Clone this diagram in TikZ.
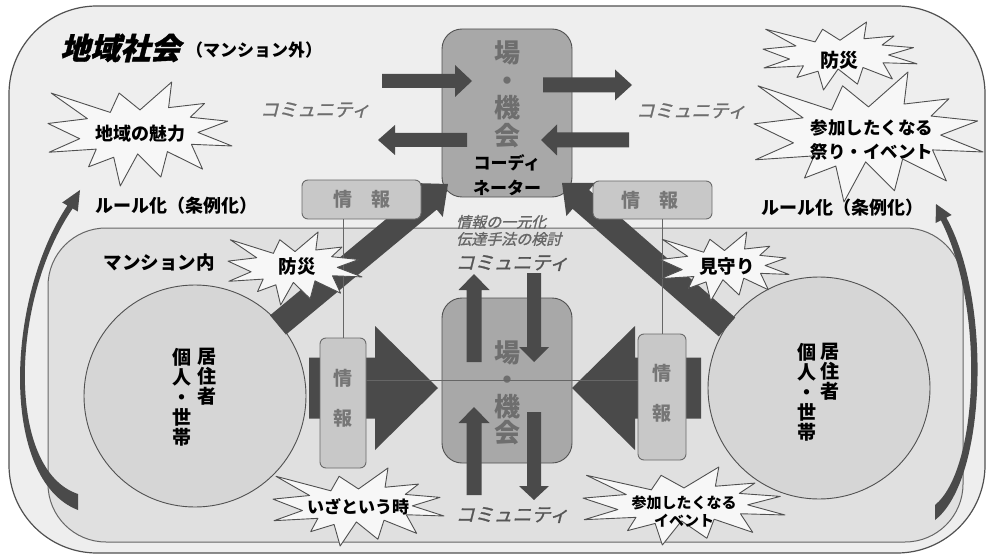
\documentclass[tikz,border=0pt]{standalone}
\usepackage{fontspec}
\setmainfont{Noto Sans CJK JP}
\newfontfamily\jpsl{Noto Sans CJK JP}[FakeSlant=0.25, FakeBold=1.2]
\usetikzlibrary{calc}
\definecolor{bgout}{HTML}{EEEEEE}
\definecolor{bgin}{HTML}{E0E0E0}
\definecolor{circfill}{HTML}{D6D6D6}
\definecolor{boxfill}{HTML}{A8A8A8}
\definecolor{infofill}{HTML}{C8C8C8}
\definecolor{infoedge}{HTML}{6A6A6A}
\definecolor{infotxt}{HTML}{767676}
\definecolor{arrowc}{HTML}{4A4A4A}
\definecolor{edgec}{HTML}{505050}
\definecolor{edgec2}{HTML}{666666}
\definecolor{placetxt}{HTML}{6E6E6E}
\definecolor{italtxt}{HTML}{555555}
\definecolor{burstfill}{HTML}{F7F7F7}
\newcommand\fs[2]{\fontsize{#1}{#2}\selectfont}
\tikzset{
  outerbox/.style={draw=edgec, line width=1.2pt, fill=bgout, rounded corners=88pt, inner sep=0pt},
  innerbox/.style={draw=edgec2, line width=1pt, fill=bgin, rounded corners=58pt, inner sep=0pt},
  resident/.style={circle, draw=edgec, line width=0.9pt, fill=circfill, minimum size=222pt, inner sep=0pt},
  placebox/.style={draw=edgec, line width=0.9pt, fill=boxfill, rounded corners=20pt, minimum width=130pt, inner sep=0pt},
  infobox/.style={draw=infoedge, line width=0.9pt, fill=infofill, rounded corners=6pt, inner sep=0pt},
  infotext/.style={text=infotxt, font=\bfseries\fs{19}{40}, align=center, inner sep=0pt},
  placetext/.style={text=placetxt, font=\bfseries\fs{26}{27.6}, align=center, inner sep=0pt},
  labeltext/.style={font=\bfseries\fs{18}{24}, align=center, inner sep=0pt},
  vtext/.style={font=\bfseries\fs{19}{20}, align=center, inner sep=0pt},
  italtext/.style={text=italtxt, font=\jpsl\fs{18.5}{20}, inner sep=0pt},
  burststyle/.style={draw=edgec, fill=burstfill, line width=0.9pt, line join=round},
  thinline/.style={draw=edgec2, line width=0.7pt},
  arrowfill/.style={fill=arrowc}
}
\newcommand\burst[4]{%
  \filldraw[burststyle, shift={(#1,#2)}, xscale=#3, yscale=#4]
  (0.5,0.2685) -- (0.6723,0) -- (0.6553,0.2465) -- (0.8509,0.2063) -- (0.7732,0.3387)
  -- (0.9767,0.3767) -- (0.8151,0.4850) -- (1,0.6153) -- (0.7795,0.5992) -- (0.8400,0.8377)
  -- (0.6491,0.6693) -- (0.6133,0.9137) -- (0.4876,0.6914) -- (0.3928,1) -- (0.3572,0.7235)
  -- (0.2205,0.8156) -- (0.2624,0.6452) -- (0.00625,0.6753) -- (0.1723,0.5451) -- (0,0.3988)
  -- (0.2142,0.3526) -- (0.0171,0.1063) -- (0.3385,0.2926) -- (0.3867,0.1063) -- cycle;}
% block arrow: from, to, shaft width, head width, head length
\newcommand\blockarr[5]{%
  \path let \p1=(#1), \p2=(#2), \n1={atan2(\y2-\y1,\x2-\x1)}, \n2={veclen(\x2-\x1,\y2-\y1)} in
    \pgfextra{\xdef\bAng{\n1}\xdef\bLen{\n2}};
  \fill[arrowfill, shift={(#1)}, rotate=\bAng]
    (0,-#3/2) -- (\bLen-#5,-#3/2) -- (\bLen-#5,-#4/2) -- (\bLen,0) -- (\bLen-#5,#4/2)
    -- (\bLen-#5,#3/2) -- (0,#3/2) -- cycle;}
\begin{document}
\begin{tikzpicture}[x=1pt,y=-1pt]
\useasboundingbox (0,0) rectangle (987,556);
% frames
\node[outerbox, minimum width=976pt, minimum height=547pt] (outer) at (497,279.5) {};
\node[innerbox, minimum width=915pt, minimum height=314pt] (inner) at (505.5,385) {};
% curved arrows
\fill[arrowfill] (78,510) .. controls (0,480) and (5,300) .. (67.4,205.5) -- (62.2,202.5)
  -- (80,190) -- (77.8,211.5) -- (72.6,208.5) .. controls (10,300) and (6,470) .. (78,494) -- cycle;
\fill[arrowfill] (935,520) .. controls (987,480) and (992,300) .. (946.3,217.6) -- (951.6,215)
  -- (936,204) -- (935.6,223) -- (940.9,220.3) .. controls (986,310) and (978,470) .. (935,505) -- cycle;
% residents
\node[resident] (lc) at (195,396) {};
\node[resident] (rc) at (819,388) {};
\node[vtext] (lc-a) at (207,377) {居\\住\\者};
\node[vtext] (lc-b) at (182,397) {個\\人\\・\\世\\帯};
\node[vtext] (rc-a) at (830,372) {居\\住\\者};
\node[vtext] (rc-b) at (807,392) {個\\人\\・\\世\\帯};
% place boxes
\node[placebox, minimum height=168pt] (tbox) at (507,113) {};
\node[placebox, minimum height=165pt] (cbox) at (507,380.5) {};
\node[placetext] (tbox-t) at (507,94.5) {場\\・\\機\\会};
\node[font=\bfseries\fs{17}{25}, align=center, inner sep=0pt] (tbox-c) at (507,175.5) {コーディ\\ネーター};
\node[placetext, font=\bfseries\fs{26}{26.7}] (cbox-t) at (507,393) {場\\・\\機\\会};
% arrows around top box
\coordinate (ta1) at (382,81);  \coordinate (ha1) at (472,81);
\coordinate (ta2) at (467,140); \coordinate (ha2) at (378,140);
\coordinate (ta3) at (543,85);  \coordinate (ha3) at (632,85);
\coordinate (ta4) at (629,140); \coordinate (ha4) at (541,140);
\blockarr{ta1}{ha1}{14}{32}{17}
\blockarr{ta2}{ha2}{14}{30}{17}
\blockarr{ta3}{ha3}{15}{31}{17}
\blockarr{ta4}{ha4}{15}{31}{16}
% diagonal arrows
\coordinate (td1) at (278,325); \coordinate (hd1) at (448,184);
\coordinate (td2) at (727,327); \coordinate (hd2) at (562,183);
\blockarr{td1}{hd1}{25}{44}{25}
\blockarr{td2}{hd2}{25}{44}{25}
% big horizontal arrows
\coordinate (tb1) at (309,388); \coordinate (hb1) at (438,388);
\coordinate (tb2) at (701,388); \coordinate (hb2) at (572,388);
\blockarr{tb1}{hb1}{61}{124}{63}
\blockarr{tb2}{hb2}{61}{124}{63}
% vertical arrows at centre box
\coordinate (tv1) at (474,362); \coordinate (hv1) at (474,274);
\coordinate (tv2) at (534,273); \coordinate (hv2) at (534,362);
\coordinate (tv3) at (474,495); \coordinate (hv3) at (474,407);
\coordinate (tv4) at (534,412); \coordinate (hv4) at (534,500);
\blockarr{tv1}{hv1}{15}{31}{16}
\blockarr{tv2}{hv2}{14}{30}{15}
\blockarr{tv3}{hv3}{15}{31}{16}
\blockarr{tv4}{hv4}{14}{30}{14}
% info boxes and thin lines
\node[infobox, minimum width=119pt, minimum height=39pt] (tli) at (361.5,199.5) {};
\node[infobox, minimum width=119pt, minimum height=38pt] (tri) at (652.5,200) {};
\node[infobox, minimum width=46pt, minimum height=130pt] (lvi) at (343,403) {};
\node[infobox, minimum width=48pt, minimum height=126pt] (rvi) at (662,397) {};
\draw[thinline] (lvi.north) -- (lvi.north |- tli.south);
\draw[thinline] (rvi.north) -- (rvi.north |- tri.south);
\draw[thinline] (lvi.east |- cbox.center) -- (rvi.west |- cbox.center);
\node[infotext] (tli-t) at (tli.center) {情　報};
\node[infotext] (tri-t) at (650,200) {情　報};
\node[infotext] (lvi-t) at (343,398) {情\\報};
\node[infotext] (rvi-t) at (662,393) {情\\報};
% bursts
\burst{48}{82}{184}{104}
\node[labeltext] (b1) at (140,134) {地域の魅力};
\burst{763}{22}{154}{68}
\node[labeltext, font=\bfseries\fs{19}{24}] (b2) at (839,60) {防災};
\burst{754}{72}{229}{130}
\node[labeltext, font=\bfseries\fs{17.5}{24}] (b3) at (872,140) {参加したくなる\\祭り・イベント};
\burst{228}{232}{134}{73}
\node[labeltext, font=\bfseries\fs{18.5}{24}] (b4) at (297,267) {防災};
\burst{660}{232}{129}{69}
\node[labeltext, font=\bfseries\fs{18.5}{24}] (b5) at (727,267) {見守り};
\burst{273}{468}{171}{78}
\node[labeltext, font=\bfseries\fs{17}{24}] (b6) at (358,507) {いざという時};
\burst{583}{467}{202}{78}
\node[labeltext, font=\bfseries\fs{15}{18}] (b7) at (684,511) {参加したくなる\\イベント};
% texts
\node[anchor=west, inner sep=0pt, font=\jpsl\bfseries\fs{30}{30}] (title) at (60,48) {地域社会};
\node[anchor=west, inner sep=0pt, font=\bfseries\fs{17}{20}] (title2) at (186,50) {（マンション外）};
\node[italtext, text=italtxt!85] (com1) at (315,110) {コミュニティ};
\node[italtext, text=italtxt!85] (com2) at (691,111) {コミュニティ};
\node[italtext, font=\jpsl\fs{19}{20}] (com3) at (512,263) {コミュニティ};
\node[italtext, font=\jpsl\fs{19}{20}] (com4) at (512,515) {コミュニティ};
\node[italtext, font=\jpsl\fs{15}{17}, text=italtxt!90, align=left, anchor=west] (info1) at (456,230.5) {情報の一元化\\伝達手法の検討};
\node[font=\bfseries\fs{18}{20}, inner sep=0pt] (rule1) at (176,206) {ルール化（条例化）};
\node[font=\bfseries\fs{18}{20}, inner sep=0pt] (rule2) at (842,208) {ルール化（条例化）};
\node[font=\bfseries\fs{18.5}{20}, inner sep=0pt] (mansion) at (159,262) {マンション内};
\end{tikzpicture}
\end{document}
